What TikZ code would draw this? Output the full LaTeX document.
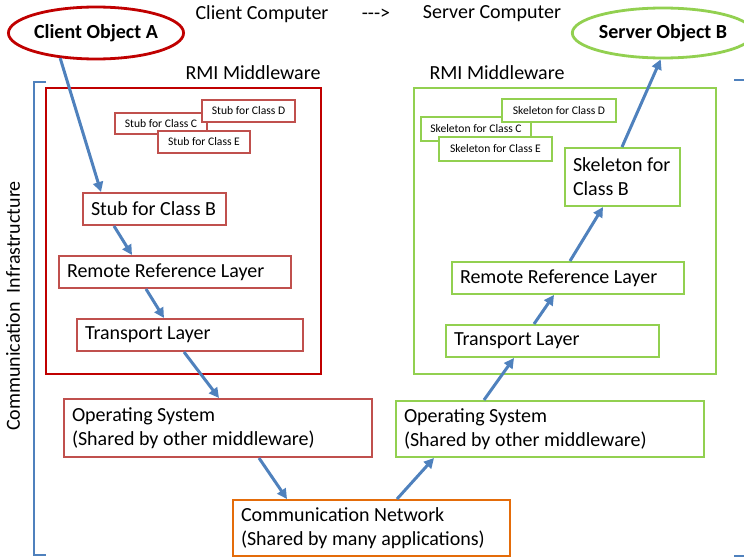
\documentclass[tikz,border=0pt]{standalone}
\usepackage{fontspec}
\setmainfont{Carlito}
\definecolor{DarkRed}{RGB}{192,0,0}
\definecolor{LayerRed}{RGB}{192,80,77}
\definecolor{SrvGreen}{RGB}{146,208,80}
\definecolor{NetOrange}{RGB}{228,108,10}
\definecolor{FlowBlue}{RGB}{79,129,189}
\usetikzlibrary{arrows.meta, shapes.geometric, calc}

\begin{document}
\begin{tikzpicture}[
  x=0.5pt, y=-0.5pt,
  obj/.style={ellipse, draw=DarkRed, line width=1.4pt, fill=white,
              inner sep=0pt, font=\bfseries},
  mw/.style={draw=DarkRed, line width=1.2pt, inner sep=0pt},
  lay/.style={draw=LayerRed, line width=1pt, fill=white, align=left,
              inner xsep=4pt, inner ysep=0pt,
              execute at begin node={\spaceskip=0pt\xspaceskip=0pt}},
  small/.style={draw=LayerRed, line width=1pt, fill=white, inner sep=0pt,
                font=\fontsize{5.8}{7}\selectfont},
  arrow/.style={-{Triangle[length=5pt,width=5pt]}, line width=1.5pt, FlowBlue},
]
  \useasboundingbox (0,0) rectangle (744,557);

  % headings
  \node (cc) at (262,14) {Client Computer};
  \node (to) at (376,14) {-{}-{}->};
  \node (sc) at (492,14) {Server Computer};
  \node (rmiL) at (253,73) {RMI Middleware};
  \node (rmiR) at (497,73) {RMI Middleware};

  % infrastructure bracket
  \draw[FlowBlue, line width=1.2pt] (46,82) -- (34,82) -- (34,555) -- (46,555);
  \draw[FlowBlue, line width=1.2pt] (734,80) -- (744,80);
  \draw[FlowBlue, line width=1.2pt] (734,556) -- (744,556);
  \node[rotate=90] (infra) at (13,306) {Communication\ \ Infrastructure};

  % middleware containers
  \node[mw, minimum width=137.5pt, minimum height=143pt] (mwL) at (183.5,231) {};
  \node[mw, draw=SrvGreen, minimum width=151pt, minimum height=143pt] (mwR) at (565,231) {};

  % objects
  \node[obj, minimum width=82pt, minimum height=26pt] (cliA) at (96,33) {Client Object A};
  \node[obj, draw=SrvGreen, minimum width=80pt, minimum height=25pt] (srvB) at (663,33) {Server Object B};

  % other stubs and skeletons
  \node[small, minimum width=46pt, minimum height=10.5pt] (stubC) at (161,123.5) {Stub for Class C};
  \node[small, minimum width=46.5pt, minimum height=11pt] (stubD) at (248.5,111) {Stub for Class D};
  \node[small, minimum width=46pt, minimum height=11pt] (stubE) at (204,142) {Stub for Class E};
  \node[small, draw=SrvGreen, minimum width=55pt, minimum height=12pt] (skC) at (476,129) {Skeleton for Class C};
  \node[small, draw=SrvGreen, minimum width=57pt, minimum height=11.5pt] (skD) at (559,110.5) {Skeleton for Class D};
  \node[small, draw=SrvGreen, minimum width=56.5pt, minimum height=12pt] (skE) at (495.5,149) {Skeleton for Class E};

  % client side layers
  \node[lay, text width=63.5pt, minimum height=16pt] (stubB) at (154.5,209) {Stub for Class B};
  \node[lay, text width=108pt, minimum height=16pt] (rrlL) at (175,272) {Remote Reference Layer};
  \node[lay, text width=105pt, minimum height=16pt] (tlL) at (190,335) {Transport Layer};
  \node[lay, text width=146pt, minimum height=29pt] (osL) at (218,428)
    {Operating System\\(Shared by other middleware)};

  % network
  \node[lay, draw=NetOrange, text width=130.5pt, minimum height=28pt] (net) at (371.5,528)
    {Communication Network\\(Shared by many applications)};

  % server side layers
  \node[lay, draw=SrvGreen, text width=146pt, minimum height=28pt] (osR) at (550,429)
    {Operating System\\(Shared by other middleware)};
  \node[lay, draw=SrvGreen, text width=98.5pt, minimum height=16pt] (tlR) at (552.5,341) {Transport Layer};
  \node[lay, draw=SrvGreen, text width=108pt, minimum height=16pt] (rrlR) at (568,278) {Remote Reference Layer};
  \node[lay, draw=SrvGreen, text width=49.5pt, minimum height=29pt] (skB) at (622.5,177)
    {Skeleton for\\Class B};

  % call path
  \draw[arrow] (cliA.215) -- ($(stubB.north west)+(19,0)$);
  \draw[arrow] ($(stubB.south west)+(32,0)$) -- ($(rrlL.north west)+(74,0)$);
  \draw[arrow] ($(rrlL.south west)+(88,0)$) -- ($(tlL.north west)+(88,0)$);
  \draw[arrow] ($(tlL.south west)+(108,0)$) -- ($(osL.north west)+(156,0)$);
  \draw[arrow] ($(osL.south west)+(196,0)$) -- ($(net.north west)+(55,0)$);
  \draw[arrow] ($(net.north west)+(165,0)$) -- ($(osR.south west)+(39,0)$);
  \draw[arrow] ($(osR.north west)+(89,0)$) -- ($(tlR.south west)+(69,0)$);
  \draw[arrow] ($(tlR.north west)+(89,0)$) -- ($(rrlR.south west)+(103,0)$);
  \draw[arrow] ($(rrlR.north west)+(119,0)$) -- ($(skB.south west)+(39,0)$);
  \draw[arrow] ($(skB.north west)+(58,0)$) -- (srvB.265);
\end{tikzpicture}
\end{document}
